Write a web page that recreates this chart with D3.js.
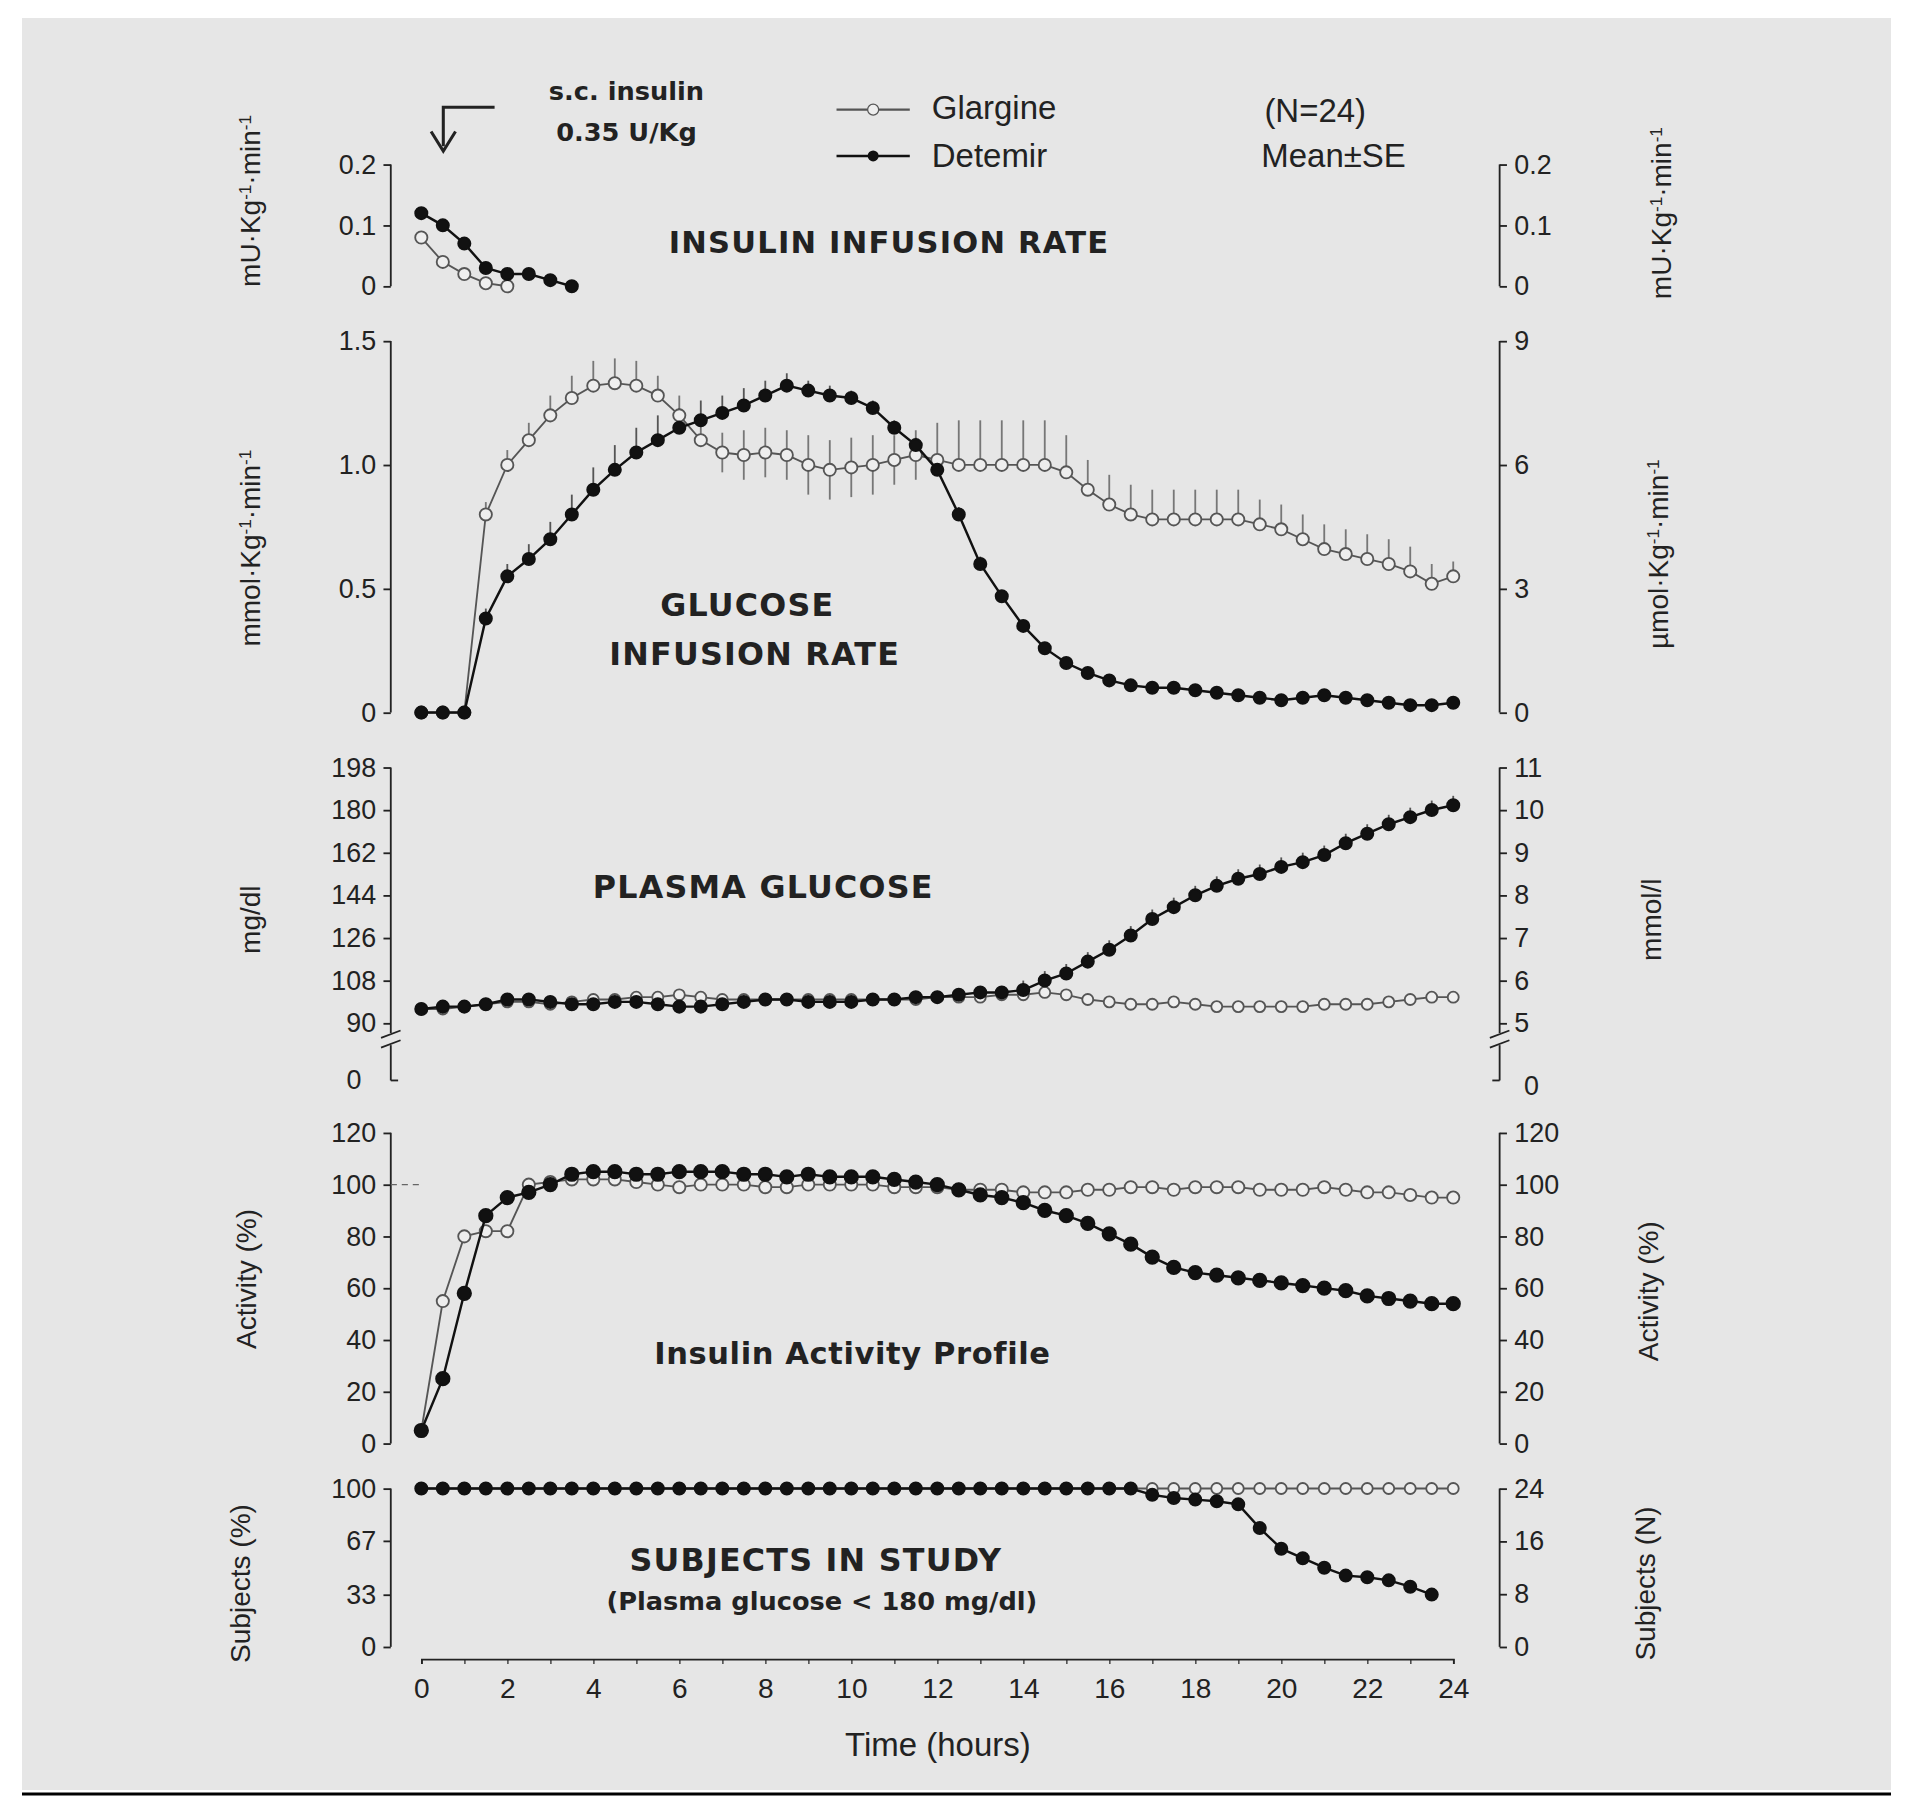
<!DOCTYPE html>
<html><head><meta charset="utf-8">
<script src="https://cdn.jsdelivr.net/npm/d3@7/dist/d3.min.js"></script>
<style>body{margin:0;background:#fff}</style></head>
<body><svg id="c" width="1905" height="1815"></svg>
<script>
const hours = d3.range(0, 24.01, 0.5);
const xTicks = [0,2,4,6,8,10,12,14,16,18,20,22,24];
const insulinGlargine = [0.08,0.04,0.02,0.005,0.0];
const insulinDetemir = [0.12,0.10,0.07,0.03,0.02,0.02,0.01,0.0];
const girGlargine = [0,0,0,0.8,1.0,1.1,1.2,1.27,1.32,1.33,1.32,1.28,1.2,1.1,1.05,1.04,1.05,1.04,1.0,0.98,0.99,1.0,1.02,1.04,1.02,1.0,1.0,1.0,1.0,1.0,0.97,0.9,0.84,0.8,0.78,0.78,0.78,0.78,0.78,0.76,0.74,0.7,0.66,0.64,0.62,0.6,0.57,0.52,0.55];
const girGlargineSE = [0,0,0,0.05,0.06,0.07,0.08,0.09,0.1,0.1,0.1,0.08,0.08,0.08,0.08,0.1,0.1,0.1,0.12,0.12,0.12,0.12,0.1,0.1,0.15,0.18,0.18,0.18,0.18,0.18,0.15,0.12,0.12,0.12,0.12,0.12,0.12,0.12,0.12,0.1,0.1,0.1,0.1,0.1,0.1,0.1,0.1,0.08,0.06];
const girDetemir = [0,0,0,0.38,0.55,0.62,0.7,0.8,0.9,0.98,1.05,1.1,1.15,1.18,1.21,1.24,1.28,1.32,1.3,1.28,1.27,1.23,1.15,1.08,0.98,0.8,0.6,0.47,0.35,0.26,0.2,0.16,0.13,0.11,0.1,0.1,0.09,0.08,0.07,0.06,0.05,0.06,0.07,0.06,0.05,0.04,0.03,0.03,0.04];
const girDetemirSE = [0,0,0,0.04,0.05,0.06,0.07,0.08,0.09,0.1,0.1,0.1,0.08,0.08,0.07,0.07,0.06,0.05,0.04,0.04,0.03,0.03,0.03,0.03,0.03,0.03,0.03,0.02,0.02,0.02,0.02,0.02,0.02,0.02,0.02,0.02,0.02,0.02,0.02,0.02,0.02,0.02,0.02,0.02,0.02,0.02,0.02,0.02,0.02];
const pgGlargine = [96,96,97,98,99,99,98,99,100,100,101,101,102,101,100,100,100,100,100,100,100,100,100,100,101,101,101,102,102,103,102,100,99,98,98,99,98,97,97,97,97,97,98,98,98,99,100,101,101];
const pgDetemir = [96,97,97,98,100,100,99,98,98,99,99,98,97,97,98,99,100,100,99,99,99,100,100,101,101,102,103,103,104,108,111,116,121,127,134,139,144,148,151,153,156,158,161,166,170,174,177,180,182];
const actGlargine = [5,55,80,82,82,100,101,102,102,102,101,100,99,100,100,100,99,99,100,100,100,100,99,99,99,98,98,98,97,97,97,98,98,99,99,98,99,99,99,98,98,98,99,98,97,97,96,95,95];
const actDetemir = [5,25,58,88,95,97,100,104,105,105,104,104,105,105,105,104,104,103,104,103,103,103,102,101,100,98,96,95,93,90,88,85,81,77,72,68,66,65,64,63,62,61,60,59,57,56,55,54,54];
const subjGlargine = hours.map(()=>100);
const subjDetemir = [100,100,100,100,100,100,100,100,100,100,100,100,100,100,100,100,100,100,100,100,100,100,100,100,100,100,100,100,100,100,100,100,100,100,96,94,93,92,90,75,62,56,50,45,44,42,38,33];

const svg = d3.select("#c");
svg.append("rect").attr("x",22).attr("y",18).attr("width",1869).attr("height",1772).attr("fill","#e6e6e6");
svg.append("line").attr("x1",22).attr("x2",1891).attr("y1",1794).attr("y2",1794).attr("stroke","#000").attr("stroke-width",3);
const g = svg.append("g").attr("transform","scale(1.2212,1.2181)");
const x = d3.scaleLinear().domain([0,24]).range([345,1190]);
const LX = 320, RX = 1228, ink = "#222";
const font = "Liberation Sans, Arial, sans-serif";

function panel(y, lTicks, rTicks, yr, lFmt, rFmt, rMap){
  const la = d3.axisLeft(y).tickValues(lTicks).tickSize(6).tickFormat(lFmt);
  const ra = d3.axisRight(y).tickValues(rTicks.map(rMap)).tickSize(6).tickFormat((d,i)=>rFmt(rTicks[i]));
  const a1 = g.append("g").attr("transform",`translate(${LX},0)`).call(la);
  const a2 = g.append("g").attr("transform",`translate(${RX},0)`).call(ra);
  [a1,a2].forEach(a=>{a.select(".domain").remove();
    a.selectAll("line").attr("stroke",ink).attr("stroke-width",1.5);
    a.selectAll("text").attr("font-family",font).attr("font-size",22).attr("fill",ink);});
  a1.append("line").attr("y1",yr[0]).attr("y2",yr[1]).attr("stroke",ink).attr("stroke-width",1.5);
  a2.append("line").attr("y1",yr[0]).attr("y2",yr[1]).attr("stroke",ink).attr("stroke-width",1.5);
  a1.selectAll(".tick text").attr("x",-12); a2.selectAll(".tick text").attr("x",12);
}
function series(xs, ys, y, filled, r){
  const line = d3.line().x((d,i)=>x(xs[i])).y(d=>y(d));
  g.append("path").attr("d",line(ys)).attr("fill","none").attr("stroke",filled?"#111":"#555").attr("stroke-width",filled?2:1.5);
  g.selectAll(null).data(ys).enter().append("circle").attr("cx",(d,i)=>x(xs[i])).attr("cy",d=>y(d)).attr("r",r||5)
    .attr("fill",filled?"#111":"#eee").attr("stroke",filled?"#111":"#555").attr("stroke-width",1.5);
}
function ebars(vals, se, y, color, down){
  g.selectAll(null).data(vals).enter().append("line").attr("x1",(d,i)=>x(hours[i])).attr("x2",(d,i)=>x(hours[i]))
    .attr("y1",(d,i)=>y(down&&hours[i]>=7&&hours[i]<=11.5?d-se[i]:d)).attr("y2",(d,i)=>y(d+se[i])).attr("stroke",color).attr("stroke-width",1.5);
}
function label(t,xx,yy,opt={}){
  const e=g.append("text").attr("x",xx).attr("y",yy).attr("font-family",opt.bold?"DejaVu Sans, sans-serif":font).attr("font-size",opt.size||22)
   .attr("font-weight",opt.bold?"bold":"normal").attr("fill",ink).attr("text-anchor",opt.anchor||"middle").text(t);
  if(opt.ls) e.attr("letter-spacing",opt.ls);
  return e;
}
function ylab(parts,xx,yy){
  const e=g.append("text").attr("transform",`translate(${xx},${yy}) rotate(-90)`).attr("font-family",font).attr("font-size",23).attr("fill",ink).attr("text-anchor","middle");
  parts.forEach(p=>{const t=e.append("tspan").text(p[0]); if(p[1]) t.attr("baseline-shift","super").attr("font-size",14);});
}

// Panel 1 insulin infusion
const y1 = d3.scaleLinear().domain([0,0.2]).range([235,135]);
panel(y1,[0,0.1,0.2],[0,0.1,0.2],[135,235],d=>d===0?"0":d3.format(".1f")(d),d=>d===0?"0":d3.format(".1f")(d),d=>d);
series(hours.slice(0,insulinGlargine.length),insulinGlargine,y1,false);
series(hours.slice(0,insulinDetemir.length),insulinDetemir,y1,true);
label("INSULIN INFUSION RATE",728,208,{bold:true,size:25,ls:1});
ylab([["mU·Kg"],["-1",1],["·min"],["-1",1]],213,165);
ylab([["mU·Kg"],["-1",1],["·min"],["-1",1]],1368,175);

// Panel 2 GIR
const y2 = d3.scaleLinear().domain([0,1.5]).range([585,280]);
panel(y2,[0,0.5,1.0,1.5],[0,3,6,9],[280,585],d=>d===0?"0":d3.format(".1f")(d),d=>d,d=>d/6);
ebars(girGlargine,girGlargineSE,y2,"#777",true);
ebars(girDetemir,girDetemirSE,y2,"#555",false);
series(hours,girGlargine,y2,false);
series(hours,girDetemir,y2,true);
label("GLUCOSE",612,506,{bold:true,size:26,ls:1});
label("INFUSION RATE",618,546,{bold:true,size:26,ls:1});
ylab([["mmol·Kg"],["-1",1],["·min"],["-1",1]],213,450);
ylab([["µmol·Kg"],["-1",1],["·min"],["-1",1]],1366,455);

// Panel 3 plasma glucose
const y3 = d3.scaleLinear().domain([90,198]).range([840,630]);
panel(y3,[90,108,126,144,162,180,198],[5,6,7,8,9,10,11],[630,848],d=>d,d=>d,d=>d*18);
[LX,RX].forEach(ax=>{
  g.append("line").attr("x1",ax).attr("x2",ax).attr("y1",858).attr("y2",887).attr("stroke",ink).attr("stroke-width",1.5);
  g.append("path").attr("d",`M${ax-8},852 L${ax+8},846 M${ax-8},860 L${ax+8},854`).attr("stroke",ink).attr("stroke-width",1.5);
  g.append("line").attr("x1",ax).attr("x2",ax+(ax===LX?6:-6)).attr("y1",887).attr("y2",887).attr("stroke",ink).attr("stroke-width",1.5);
});
label("0",296,894,{size:22,anchor:"end"}); label("0",1248,899,{size:22,anchor:"start"});
ebars(pgDetemir,pgDetemir.map((d,i)=>hours[i]>=14?4:1.5),y3,"#555",false);
series(hours,pgGlargine,y3,false,4.5);
series(hours,pgDetemir,y3,true);
label("PLASMA GLUCOSE",625,737,{bold:true,size:26,ls:1});
ylab([["mg/dl"]],213,755); ylab([["mmol/l"]],1360,755);

// Panel 4 activity
const y4 = d3.scaleLinear().domain([0,120]).range([1185,930]);
panel(y4,d3.range(0,121,20),d3.range(0,121,20),[930,1185],d=>d,d=>d,d=>d);
g.append("line").attr("x1",LX).attr("x2",345).attr("y1",y4(100)).attr("y2",y4(100)).attr("stroke","#666").attr("stroke-dasharray","5,4");
series(hours,actGlargine,y4,false);
series(hours,actDetemir,y4,true,5.5);
label("Insulin Activity Profile",698,1120,{bold:true,size:25,ls:0.5});
ylab([["Activity (%)"]],210,1050); ylab([["Activity (%)"]],1358,1060);

// Panel 5 subjects
const y5 = d3.scaleLinear().domain([0,100]).range([1352,1222]);
panel(y5,[0,33,67,100],[0,8,16,24],[1222,1352],d=>d,d=>d,d=>d/24*100);
series(hours,subjGlargine,y5,false,4.5);
series(hours.slice(0,subjDetemir.length),subjDetemir,y5,true);
label("SUBJECTS IN STUDY",668,1290,{bold:true,size:26,ls:1});
label("(Plasma glucose < 180 mg/dl)",673,1322,{bold:true,size:21});
ylab([["Subjects (%)"]],205,1300); ylab([["Subjects (N)"]],1355,1300);

// x axis
const xa = g.append("g").attr("transform","translate(0,1362)").call(d3.axisBottom(x).tickValues(d3.range(0,24.1,1)).tickSize(4).tickFormat(d=>xTicks.includes(d)?d:""));
xa.select(".domain").attr("stroke",ink).attr("stroke-width",1.5);
xa.selectAll("line").attr("stroke",ink);
xa.selectAll("text").attr("font-family",font).attr("font-size",23).attr("fill",ink).attr("dy","1.1em");
label("Time (hours)",768,1442,{size:27});

// legend & annotation
g.append("path").attr("d","M405,88 L363,88 L363,120").attr("fill","none").attr("stroke",ink).attr("stroke-width",2.5);
g.append("path").attr("d","M353,108 L363,124 L373,108").attr("fill","none").attr("stroke",ink).attr("stroke-width",2.5);
label("s.c. insulin",513,82,{size:21,bold:true});
label("0.35 U/Kg",513,116,{size:21,bold:true});
g.append("line").attr("x1",685).attr("x2",745).attr("y1",90).attr("y2",90).attr("stroke","#555").attr("stroke-width",2);
g.append("circle").attr("cx",715).attr("cy",90).attr("r",4.5).attr("fill","#eee").attr("stroke","#555");
g.append("line").attr("x1",685).attr("x2",745).attr("y1",128).attr("y2",128).attr("stroke","#111").attr("stroke-width",2);
g.append("circle").attr("cx",715).attr("cy",128).attr("r",4.5).attr("fill","#111");
label("Glargine",763,98,{size:27,anchor:"start"});
label("Detemir",763,137,{size:27,anchor:"start"});
label("(N=24)",1077,100,{size:27});
label("Mean±SE",1092,137,{size:27});
</script></body></html>
